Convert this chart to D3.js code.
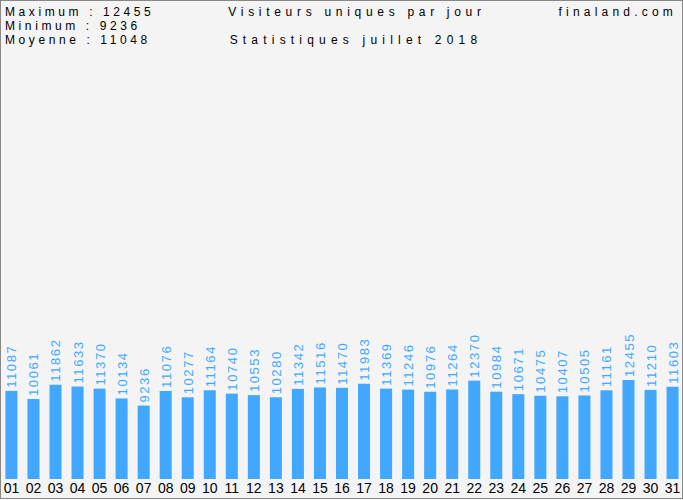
<!DOCTYPE html>
<html><head><meta charset="utf-8">
<script src="https://cdn.jsdelivr.net/npm/d3@7/dist/d3.min.js"></script>
<style>body{margin:0;background:#fff}svg{display:block}</style>
</head><body>
<script>
const days = ["01","02","03","04","05","06","07","08","09","10","11","12","13","14","15","16","17","18","19","20","21","22","23","24","25","26","27","28","29","30","31"];
const visitors = [11087,10061,11862,11633,11370,10134,9236,11076,10277,11164,10740,10553,10280,11342,11516,11470,11983,11369,11246,10976,11264,12370,10984,10671,10475,10407,10505,11161,12455,11210,11603];
const statsLines = ["Maximum : 12455","Minimum : 9236","Moyenne : 11048"];
const titleLines = ["Visiteurs uniques par jour","Statistiques juillet 2018"];
const siteName = "finaland.com";

const W = 683, H = 500;
const svg = d3.select("body").append("svg").attr("width", W).attr("height", H);
svg.append("rect").attr("x",0.5).attr("y",0.5).attr("width",W-1).attr("height",H-2)
  .attr("fill","#f4f4f4").attr("stroke","#888");

const font = "'Liberation Sans', Arial, sans-serif";
const x = d3.scaleBand().domain(days).range([1, 683]).paddingInner(0.4545).paddingOuter(0.2);
const y = d3.scaleLinear().domain([0, 12455]).range([479, 380]);

svg.selectAll("text.stat").data(statsLines).join("text")
  .attr("x",5).attr("y",(d,i)=>16+i*14)
  .attr("font-family",font).attr("font-size",12).attr("letter-spacing","3.6px")
  .attr("fill","#000").text(d=>d);

svg.selectAll("text.title").data(titleLines).join("text")
  .attr("x",(d,i)=>i===0?357:356).attr("y",(d,i)=>16+i*28).attr("text-anchor","middle")
  .attr("font-family",font).attr("font-size",12).attr("letter-spacing",(d,i)=>i===0?"4.7px":"5.2px")
  .attr("fill","#000").text(d=>d);

svg.append("text").attr("x",677).attr("y",16).attr("text-anchor","end")
  .attr("font-family",font).attr("font-size",12).attr("letter-spacing","4.2px")
  .attr("fill","#000").text(siteName);

svg.selectAll("rect.bar").data(visitors).join("rect")
  .attr("x",(d,i)=>x(days[i])).attr("width",x.bandwidth())
  .attr("y",d=>y(d)).attr("height",d=>y(0)-y(d)).attr("fill","#42a8ff");

svg.selectAll("text.val").data(visitors).join("text")
  .attr("transform",(d,i)=>`translate(${x(days[i])+x.bandwidth()/2+5},${y(d)-3}) rotate(-90)`)
  .attr("font-family",font).attr("font-size",13).attr("letter-spacing","1.6px")
  .attr("fill","#42a8ff").text(d=>d);

const xAxis = d3.axisBottom(x).tickSize(0).tickPadding(0);
const gx = svg.append("g").attr("transform","translate(0,483)").call(xAxis);
gx.select(".domain").remove();
gx.selectAll("text").attr("font-family",font).attr("font-size",14).attr("fill","#000").attr("dy","0.71em");
</script>
</body></html>
